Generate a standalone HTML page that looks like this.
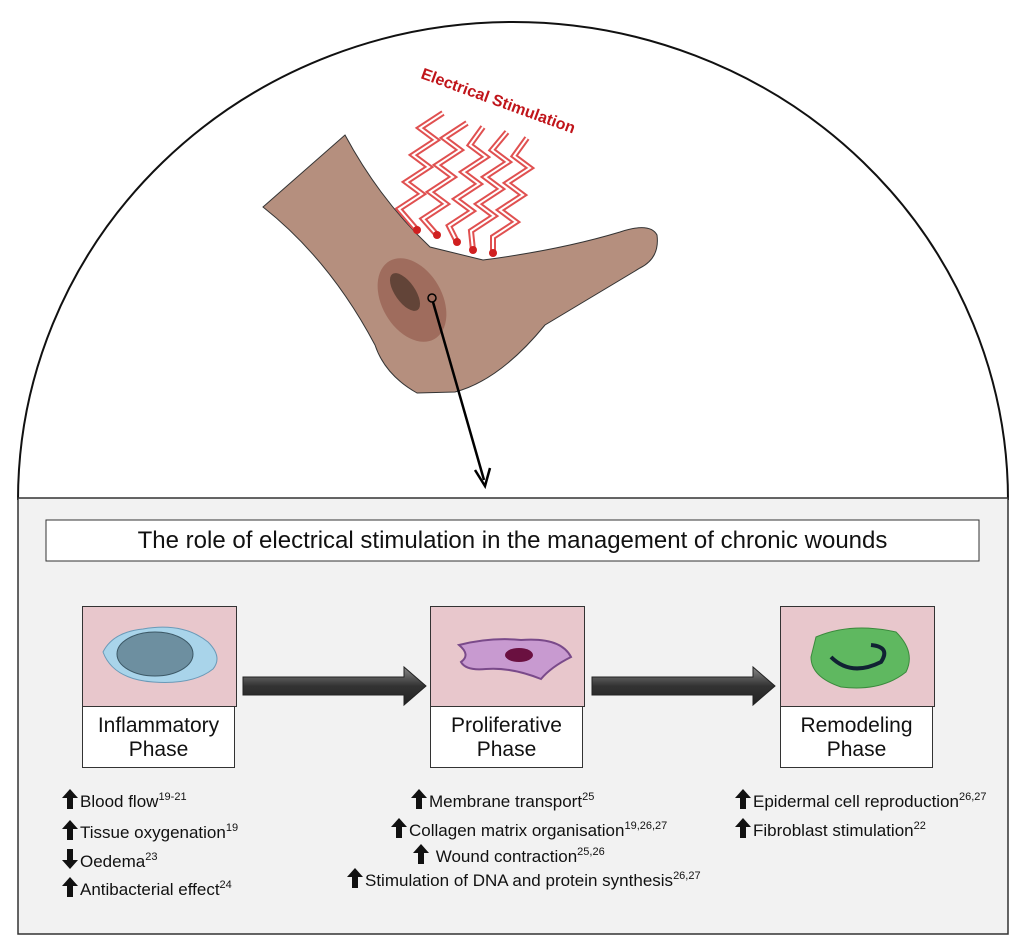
<!DOCTYPE html>
<html><head><style>
body{margin:0;width:1024px;height:939px;background:#fff;position:relative;font-family:"Liberation Sans",sans-serif;overflow:hidden}
.ab{position:absolute}
.img{position:absolute;background:#e8c7cc;border:1px solid #333;width:153px;height:99px}
.lab{position:absolute;background:#fff;border:1px solid #333;width:153px;height:62px;font-size:21px;text-align:center;line-height:24px;padding-top:7px;box-sizing:border-box;color:#111}
.t{position:absolute;font-size:17px;color:#111;white-space:nowrap}
.t sup{font-size:11px;vertical-align:7px}
.t svg{vertical-align:-2px;margin-right:2px}
</style></head><body>
<svg width="0" height="0" style="position:absolute"><defs>
<symbol id="up" viewBox="0 0 16 20"><path d="M8 0 L16 9 L11 9 L11 20 L5 20 L5 9 L0 9Z" fill="#111"/></symbol>
<symbol id="dn" viewBox="0 0 16 20"><path d="M8 20 L16 11 L11 11 L11 0 L5 0 L5 11 L0 11Z" fill="#111"/></symbol>
</defs></svg>
<svg class="ab" style="left:0;top:0" width="1024" height="939">
<path d="M18 500 A495 478 0 0 1 1008 500" fill="none" stroke="#111" stroke-width="2"/>
<path d="M263 207 L345 135 Q380 200 430 247 L483 260 Q560 250 620 232 Q650 222 657 235 Q660 258 640 268 L545 325 Q500 380 455 392 L417 393 Q385 375 375 345 Q330 260 263 207Z" fill="#b58f7e" stroke="#333" stroke-width="1"/>
<ellipse cx="412" cy="300" rx="30" ry="45" fill="#8a4a3c" opacity="0.5" transform="rotate(-30 412 300)"/>
<ellipse cx="405" cy="292" rx="10" ry="22" fill="#3b2a20" opacity="0.6" transform="rotate(-35 405 292)"/>
<g fill="none" stroke-linejoin="miter">
<g stroke="#e05050" stroke-width="6">
<polyline points="443,113 420,128 436,140 413,155 429,167 406,182 422,194 399,209 417,230"/>
<polyline points="467,123 444,138 460,150 437,165 453,177 430,192 446,204 423,219 437,235"/>
<polyline points="483,127 470,145 486,157 463,172 479,184 456,199 472,211 449,226 457,242"/>
<polyline points="507,132 492,150 508,162 485,177 501,189 478,204 494,216 471,231 473,250"/>
<polyline points="527,138 514,156 530,168 507,183 523,195 500,210 516,222 493,237 493,253"/>
</g>
<g stroke="#fff" stroke-width="2">
<polyline points="443,113 420,128 436,140 413,155 429,167 406,182 422,194 399,209 417,230"/>
<polyline points="467,123 444,138 460,150 437,165 453,177 430,192 446,204 423,219 437,235"/>
<polyline points="483,127 470,145 486,157 463,172 479,184 456,199 472,211 449,226 457,242"/>
<polyline points="507,132 492,150 508,162 485,177 501,189 478,204 494,216 471,231 473,250"/>
<polyline points="527,138 514,156 530,168 507,183 523,195 500,210 516,222 493,237 493,253"/>
</g></g>
<g fill="#d02020"><circle cx="417" cy="230" r="4"/><circle cx="437" cy="235" r="4"/><circle cx="457" cy="242" r="4"/><circle cx="473" cy="250" r="4"/><circle cx="493" cy="253" r="4"/></g>
<text x="420" y="78" fill="#c0141a" font-weight="bold" font-size="16" transform="rotate(20 420 78)" font-family="Liberation Sans">Electrical Stimulation</text>
<circle cx="432" cy="298" r="4" fill="none" stroke="#000" stroke-width="1.5"/>
<line x1="433" y1="302" x2="484" y2="480" stroke="#000" stroke-width="2.5"/>
<path d="M475 470 L485 486 L490 468" fill="none" stroke="#000" stroke-width="2.5"/>
<rect x="18" y="498" width="990" height="436" fill="#f2f2f2" stroke="#333" stroke-width="1.5"/>
<rect x="46" y="520" width="933" height="41" fill="#fff" stroke="#333"/>
<defs><linearGradient id="g" x1="0" y1="0" x2="0" y2="1"><stop offset="0" stop-color="#888"/><stop offset="0.5" stop-color="#333"/><stop offset="1" stop-color="#222"/></linearGradient></defs>
<path d="M243 677 L404 677 L404 667 L426 686 L404 705 L404 695 L243 695Z" fill="url(#g)" stroke="#222"/>
<path d="M592 677 L753 677 L753 667 L775 686 L753 705 L753 695 L592 695Z" fill="url(#g)" stroke="#222"/>
</svg>
<div class="ab" style="left:46px;top:527px;width:933px;text-align:center;font-size:24px;color:#111">The role of electrical stimulation in the management of chronic wounds</div>
<div class="img" style="left:82px;top:606px"><svg width="153" height="99"><path d="M20 45 Q30 25 60 22 Q100 15 125 35 Q140 50 130 62 Q110 78 70 75 Q30 72 20 45Z" fill="#a9d4ea" stroke="#6a9ab8"/><ellipse cx="72" cy="47" rx="38" ry="22" fill="#6d8fa0" stroke="#3c5866"/></svg></div>
<div class="lab" style="left:82px;top:706px">Inflammatory<br>Phase</div>
<div class="img" style="left:430px;top:606px"><svg width="153" height="99"><path d="M28 38 Q60 30 90 33 Q130 30 140 50 Q120 60 110 72 Q80 60 55 62 Q35 64 30 55 Q40 48 28 38Z" fill="#c89ad0" stroke="#7a4a8a" stroke-width="2"/><ellipse cx="88" cy="48" rx="14" ry="7" fill="#6a1040"/></svg></div>
<div class="lab" style="left:430px;top:706px">Proliferative<br>Phase</div>
<div class="img" style="left:780px;top:606px"><svg width="153" height="99"><path d="M35 30 Q70 15 115 25 Q135 45 125 65 Q100 85 60 80 Q30 70 30 50Z" fill="#5fb860" stroke="#3a8a3c"/><path d="M50 50 Q70 70 100 55 Q110 40 90 38" fill="none" stroke="#123" stroke-width="4"/></svg></div>
<div class="lab" style="left:780px;top:706px">Remodeling<br>Phase</div>
<div class="t" style="left:62px;top:789px"><svg width="16" height="20"><use href="#up"/></svg>Blood flow<sup>19-21</sup></div>
<div class="t" style="left:62px;top:820px"><svg width="16" height="20"><use href="#up"/></svg>Tissue oxygenation<sup>19</sup></div>
<div class="t" style="left:62px;top:849px"><svg width="16" height="20"><use href="#dn"/></svg>Oedema<sup>23</sup></div>
<div class="t" style="left:62px;top:877px"><svg width="16" height="20"><use href="#up"/></svg>Antibacterial effect<sup>24</sup></div>
<div class="t" style="left:411px;top:789px"><svg width="16" height="20"><use href="#up"/></svg>Membrane transport<sup>25</sup></div>
<div class="t" style="left:391px;top:818px"><svg width="16" height="20"><use href="#up"/></svg>Collagen matrix organisation<sup>19,26,27</sup></div>
<div class="t" style="left:413px;top:844px"><svg width="16" height="20"><use href="#up"/></svg> Wound contraction<sup>25,26</sup></div>
<div class="t" style="left:347px;top:868px"><svg width="16" height="20"><use href="#up"/></svg>Stimulation of DNA and protein synthesis<sup>26,27</sup></div>
<div class="t" style="left:735px;top:789px"><svg width="16" height="20"><use href="#up"/></svg>Epidermal cell reproduction<sup>26,27</sup></div>
<div class="t" style="left:735px;top:818px"><svg width="16" height="20"><use href="#up"/></svg>Fibroblast stimulation<sup>22</sup></div>
</body></html>
